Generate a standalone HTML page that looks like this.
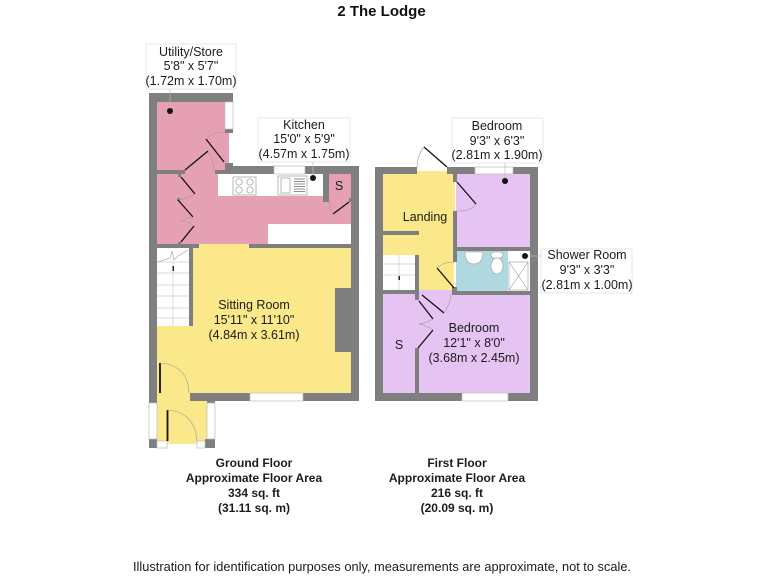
<!DOCTYPE html>
<html><head><meta charset="utf-8"><style>
html,body{margin:0;padding:0;background:#fff}
svg{display:block}
text{font-family:"Liberation Sans",sans-serif;fill:#1c1c1c;text-anchor:middle}
.l{font-size:12.5px}
.b{font-size:12px;font-weight:bold;fill:#111}
.d{stroke:#111;stroke-width:1.3;fill:none}
.a{stroke:#9a9a9a;stroke-width:.6;fill:none}
.t{stroke:#bbb;stroke-width:.7;fill:#fff}
</style></head><body>
<svg width="768" height="576" viewBox="0 0 768 576" xmlns="http://www.w3.org/2000/svg">
<rect width="768" height="576" fill="#fff"/>
<!-- ground colours -->
<g fill="#e6a0b4">
<rect x="157" y="101" width="68" height="32"/>
<rect x="157" y="133" width="72" height="37"/>
<rect x="157" y="174" width="194" height="71"/>
<rect x="185" y="169" width="30" height="6"/>
</g>
<g fill="#fff">
<rect x="218" y="174" width="105" height="22"/>
<rect x="268" y="224" width="83" height="20"/>
</g>
<g fill="#fbe88a">
<rect x="193" y="244" width="158" height="150"/>
<rect x="157" y="326" width="40" height="68"/>
<rect x="157" y="390" width="50" height="54"/>
</g>
<!-- ground walls -->
<g fill="#7f7f7f">
<rect x="149" y="93" width="84" height="9"/>
<rect x="149" y="93" width="8" height="310"/>
<rect x="225" y="93" width="8" height="9"/>
<rect x="225" y="129" width="8" height="4"/>
<rect x="225" y="163" width="8" height="6"/>
<rect x="149" y="170" width="36" height="4"/>
<rect x="215" y="170" width="59" height="4"/>
<rect x="225" y="166" width="49" height="8"/>
<rect x="305" y="166" width="54" height="8"/>
<rect x="351" y="166" width="8" height="235"/>
<rect x="323" y="174" width="6" height="28"/>
<rect x="349" y="198" width="3" height="4"/>
<rect x="149" y="244" width="50" height="4"/>
<rect x="249" y="244" width="110" height="4"/>
<rect x="189" y="248" width="4" height="78"/>
<rect x="335" y="288" width="16" height="64"/>
<rect x="190" y="393" width="60" height="8"/>
<rect x="303" y="393" width="56" height="8"/>
<rect x="207" y="393" width="8" height="10"/>
<rect x="149" y="439" width="8" height="9"/>
<rect x="205" y="439" width="10" height="9"/>
<rect x="178" y="172" width="3" height="5"/>
<rect x="177" y="198" width="3" height="3"/>
<rect x="178" y="242" width="3" height="3"/>
</g>
<!-- ground windows -->
<rect x="225" y="102" width="8" height="27" class="t"/>
<rect x="274" y="166" width="31" height="8" class="t"/>
<rect x="250" y="393" width="53" height="8" class="t"/>
<rect x="149" y="403" width="8" height="36" class="t"/>
<rect x="207" y="403" width="8" height="36" class="t"/>
<rect x="157" y="441" width="10" height="7" class="t"/>
<rect x="197" y="441" width="8" height="7" class="t"/>
<!-- stairs ground -->
<g stroke="#ccc" stroke-width=".7" fill="none">
<path d="M157 262H189M157 273H189M157 285H189M157 296H189M157 308H189M157 318H189M173 262V326"/>
<path d="M158 262L170 258L172 251L174 260L178 256L188 250" stroke="#aaa"/>
</g>
<rect x="172.500" y="266" width="1.500" height="5" fill="#222"/>
<!-- hob and sink -->
<g stroke="#999" stroke-width=".7" fill="#fff">
<rect x="233" y="177" width="23" height="18"/>
<circle cx="239" cy="182" r="3.200"/><circle cx="250" cy="182" r="3.200"/>
<circle cx="239" cy="190" r="3.200"/><circle cx="250" cy="190" r="3.200"/>
<rect x="278" y="176" width="29" height="19"/>
<rect x="281" y="178" width="9" height="15"/>
<path d="M294 179H305M294 181.500H305M294 184H305M294 186.500H305M294 189H305M294 191.500H305" stroke="#666"/>
</g>
<!-- ground doors -->
<path class="d" d="M206 139L224 162M185 170L208 151M181 177L195 194M178 200L193 217M181 242L194 226M333 214L349 202"/>
<path class="d" style="stroke-width:1.800" d="M160 363V393M167.500 410V441"/>
<path class="a" d="M207 138Q214 132 225 132M208 151Q214 160 214 172M195 194Q188 199 178 200M193 217Q184 219 181 221Q190 222 194 226M329 200Q330 209 333 214M160 363Q188 365 189 393M167 410Q195 412 197 441"/>
<!-- first colours -->
<g fill="#fbe88a">
<rect x="383" y="174" width="72" height="58"/>
<rect x="417" y="171" width="30" height="6"/>
<rect x="383" y="232" width="36" height="24"/>
<rect x="419" y="232" width="35" height="60"/>
</g>
<g fill="#e5c3f3">
<rect x="456" y="174" width="74" height="74"/>
<rect x="383" y="294" width="147" height="100"/>
<rect x="419" y="290" width="33" height="5"/>
</g>
<rect x="456" y="251" width="74" height="40" fill="#afd8e1"/>
<rect x="508" y="251" width="22" height="40" fill="#fff"/>
<!-- first walls -->
<g fill="#7f7f7f">
<rect x="375" y="167" width="42" height="7"/>
<rect x="447" y="167" width="28" height="7"/>
<rect x="513" y="167" width="25" height="7"/>
<rect x="375" y="167" width="8" height="234"/>
<rect x="530" y="167" width="8" height="234"/>
<rect x="453" y="174" width="4" height="8"/>
<rect x="453" y="211" width="4" height="51"/>
<rect x="456" y="247" width="74" height="4"/>
<rect x="383" y="231" width="36" height="4"/>
<rect x="415" y="255" width="4" height="35"/>
<rect x="375" y="290" width="44" height="4"/>
<rect x="452" y="291" width="86" height="4"/>
<rect x="415" y="294" width="4" height="6"/>
<rect x="415" y="348" width="4" height="45"/>
<rect x="375" y="393" width="87" height="8"/>
<rect x="508" y="393" width="30" height="8"/>
<rect x="452" y="287" width="5" height="4"/>
</g>
<rect x="475" y="167" width="38" height="7" class="t"/>
<rect x="462" y="393" width="46" height="8" class="t"/>
<!-- stairs first -->
<rect x="383" y="255" width="32" height="35" fill="#fff"/>
<path d="M383 264H415M383 275H415M399 255V290" stroke="#ccc" stroke-width=".7" fill="none"/>
<rect x="398.500" y="276" width="1.500" height="4" fill="#222"/>
<!-- bathroom -->
<g stroke="#999" stroke-width=".6" fill="#fff">
<path d="M465 252H483Q483 264 474 264Q465 264 465 252Z"/>
<rect x="491" y="252" width="12" height="6" rx="3"/>
<ellipse cx="497" cy="266" rx="6" ry="8"/>
<rect x="509" y="262" width="19" height="28"/>
<path d="M509 262L528 290M528 262L509 290"/>
</g>
<!-- first doors -->
<path class="d" d="M424 147L447 167M457 182L476 204M437 268L454 288M422 295L444 313M419 301L433 319M418 348L433 330"/>
<path class="a" d="M417 169Q417 155 424 147M476 204Q472 211 457 211M437 268Q443 262 455 262M444 313Q450 305 451 294M433 319Q424 324 419 324Q428 326 433 330"/>
<!-- label boxes -->
<g fill="#fff" stroke="#ddd" stroke-width=".7">
<rect x="146" y="44" width="90" height="45"/>
<rect x="258" y="118" width="92" height="44"/>
<rect x="452" y="118" width="91" height="45"/>
<rect x="541" y="249" width="91" height="44"/>
</g>
<path d="M170 89V108M313 162V175M505 163V178M528 256H541" stroke="#bbb" stroke-width=".7" fill="none"/>
<g fill="#111">
<circle cx="170" cy="111" r="3"/><circle cx="313" cy="178" r="3"/><circle cx="505" cy="181" r="3"/><circle cx="525" cy="256" r="3"/>
</g>
<!-- text -->
<text x="381.500" y="16" font-size="15" font-weight="bold" style="fill:#111">2 The Lodge</text>
<g class="l">
<text x="191" y="56">Utility/Store</text><text x="191" y="70">5'8" x 5'7"</text><text x="191" y="85">(1.72m x 1.70m)</text>
<text x="304" y="129">Kitchen</text><text x="304" y="143">15'0" x 5'9"</text><text x="304" y="158">(4.57m x 1.75m)</text>
<text x="497" y="130">Bedroom</text><text x="497" y="145">9'3" x 6'3"</text><text x="497" y="159">(2.81m x 1.90m)</text>
<text x="587" y="259">Shower Room</text><text x="587" y="274">9'3" x 3'3"</text><text x="587" y="289">(2.81m x 1.00m)</text>
<text x="254" y="309">Sitting Room</text><text x="254" y="324">15'11" x 11'10"</text><text x="254" y="339">(4.84m x 3.61m)</text>
<text x="474" y="332">Bedroom</text><text x="474" y="347">12'1" x 8'0"</text><text x="474" y="362">(3.68m x 2.45m)</text>
<text x="425" y="221">Landing</text>
<text x="339" y="190">S</text><text x="399" y="349">S</text>
</g>
<g class="b">
<text x="254" y="467">Ground Floor</text><text x="254" y="482">Approximate Floor Area</text><text x="254" y="497">334 sq. ft</text><text x="254" y="512">(31.11 sq. m)</text>
<text x="457" y="467">First Floor</text><text x="457" y="482">Approximate Floor Area</text><text x="457" y="497">216 sq. ft</text><text x="457" y="512">(20.09 sq. m)</text>
</g>
<text x="382" y="571" font-size="13" textLength="498" lengthAdjust="spacingAndGlyphs">Illustration for identification purposes only, measurements are approximate, not to scale.</text>
</svg>
</body></html>
